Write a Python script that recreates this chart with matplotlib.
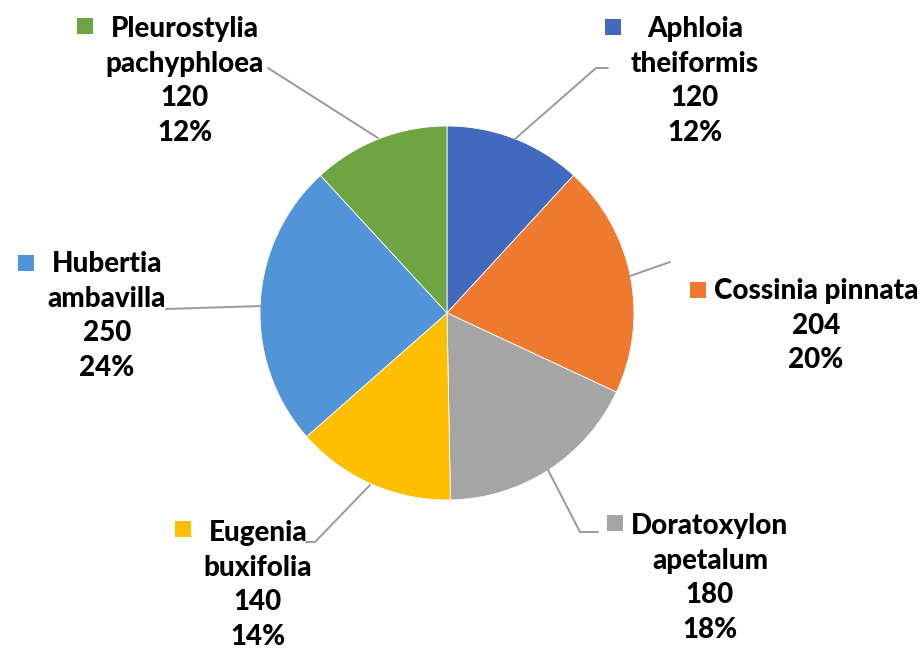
import matplotlib.pyplot as plt
from matplotlib.patches import Rectangle

# data
species = ['Aphloia\ntheiformis', 'Cossinia pinnata', 'Doratoxylon\napetalum',
           'Eugenia\nbuxifolia', 'Hubertia\nambavilla', 'Pleurostylia\npachyphloea']
counts = [120, 204, 180, 140, 250, 120]
percents = [12, 20, 18, 14, 24, 12]
colors = ['#4169BD', '#EE7A30', '#A5A5A5', '#FFBE00', '#5195D8', '#6FA443']

W, H = 920, 651

# label layout in pixel coords (x centre of text, y of first line, square x/y)
label_pos = [(695, 28, 613, 27), (816, 290, 698, 290), (710, 525, 615, 523),
             (258, 532, 183, 529), (107, 263, 26, 263), (185, 28, 85, 26)]
# leader lines (pixel coords)
leaders = [[(515, 139), (596, 68), (608, 68)],
           [(630, 276), (670, 262)],
           [(548, 470), (580, 532), (598, 532)],
           [(370, 485), (315, 542), (306, 542)],
           [(262, 306), (166, 309)],
           [(378, 138), (268, 68)]]

plt.rcParams['font.family'] = ['Lato', 'DejaVu Sans']

fig = plt.figure(figsize=(W / 100, H / 100), dpi=100)
ax = fig.add_axes([0, 0, 1, 1])

ax.pie(counts, colors=colors, startangle=90, counterclock=False,
       center=(447, H - 313), radius=187,
       wedgeprops=dict(edgecolor='white', linewidth=0.6))

for pts in leaders:
    xs = [p[0] for p in pts]
    ys = [H - p[1] for p in pts]
    ax.plot(xs, ys, color='#9A9A9A', lw=1.4, solid_capstyle='round', zorder=1)

for name, n, pct, col, (tx, ty, sx, sy) in zip(species, counts, percents, colors, label_pos):
    txt = f"{name}\n{n}\n{pct}%"
    # first line's centre sits at ty; shift to its top
    ax.text(tx, H - ty + 12, txt, ha='center', va='top', fontsize=20, fontweight='black',
            linespacing=1.41, color='black')
    ax.add_patch(Rectangle((sx - 8, H - sy - 8), 16, 16, color=col, lw=0))

ax.set_xlim(0, W)
ax.set_ylim(0, H)
ax.set_aspect('equal')
ax.axis('off')

fig.savefig('out.png', dpi=100)
